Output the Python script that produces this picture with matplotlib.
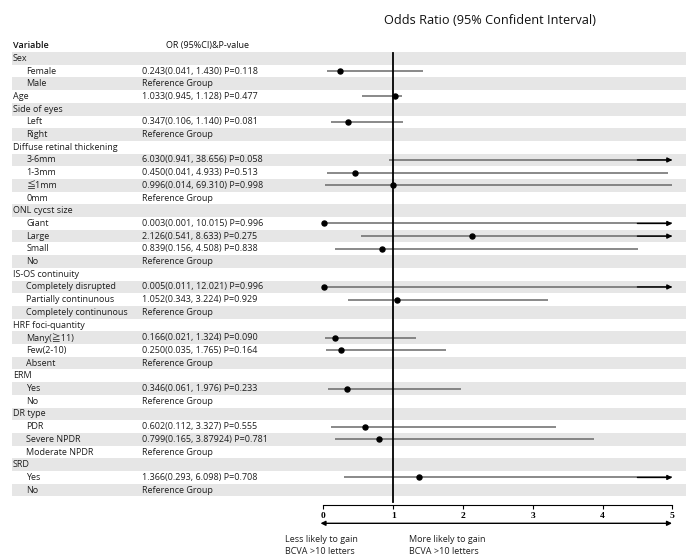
import numpy as np
import matplotlib.pyplot as plt
from matplotlib.patches import Rectangle

plt.rcParams['font.family'] = ['Open Sans', 'Noto Sans CJK SC', 'DejaVu Sans']

# row labels, indent level (0 = group, 1 = sub item), text column
labels = ["Sex", "Female", "Male", "Age", "Side of eyes", "Left", "Right",
          "Diffuse retinal thickening", "3-6mm", "1-3mm", "≦1mm", "0mm",
          "ONL cycst size", "Giant", "Large", "Small", "No",
          "IS-OS continuity", "Completely disrupted", "Partially continunous",
          "Completely continunous", "HRF foci-quantity", "Many(≧11)", "Few(2-10)",
          "Absent", "ERM", "Yes", "No", "DR type", "PDR", "Severe NPDR",
          "Moderate NPDR", "SRD", "Yes", "No"]
level = [0, 1, 1, 0, 0, 1, 1,
         0, 1, 1, 1, 1,
         0, 1, 1, 1, 1,
         0, 1, 1, 1, 0, 1, 1, 1,
         0, 1, 1, 0, 1, 1, 1,
         0, 1, 1]
ref = "Reference Group"
or_text = ["", "0.243(0.041, 1.430) P=0.118", ref, "1.033(0.945, 1.128) P=0.477", "",
           "0.347(0.106, 1.140) P=0.081", ref,
           "", "6.030(0.941, 38.656) P=0.058", "0.450(0.041, 4.933) P=0.513",
           "0.996(0.014, 69.310) P=0.998", ref,
           "", "0.003(0.001, 10.015) P=0.996", "2.126(0.541, 8.633) P=0.275",
           "0.839(0.156, 4.508) P=0.838", ref,
           "", "0.005(0.011, 12.021) P=0.996", "1.052(0.343, 3.224) P=0.929", ref,
           "", "0.166(0.021, 1.324) P=0.090", "0.250(0.035, 1.765) P=0.164", ref,
           "", "0.346(0.061, 1.976) P=0.233", ref,
           "", "0.602(0.112, 3.327) P=0.555", "0.799(0.165, 3.87924) P=0.781", ref,
           "", "1.366(0.293, 6.098) P=0.708", ref]

# plotted values as drawn in the figure (nan = no estimate)
nan = np.nan
est = [nan, 0.243, nan, 1.033, nan, 0.347, nan,
       nan, 6.030, 0.450, 0.996, nan,
       nan, 0.003, 2.126, 0.839, nan,
       nan, 0.005, 1.052, nan, nan, 0.166, 0.250, nan,
       nan, 0.346, nan, nan, 0.602, 0.799, nan,
       nan, 1.366, nan]
lo = [nan, 0.05, nan, 0.56, nan, 0.11, nan,
      nan, 0.941, 0.05, 0.02, nan,
      nan, 0.003, 0.541, 0.165, nan,
      nan, 0.005, 0.35, nan, nan, 0.03, 0.04, nan,
      nan, 0.07, nan, nan, 0.11, 0.165, nan,
      nan, 0.30, nan]
hi = [nan, 1.430, nan, 1.128, nan, 1.140, nan,
      nan, 38.656, 4.933, 69.310, nan,
      nan, 10.015, 8.633, 4.508, nan,
      nan, 12.021, 3.224, nan, nan, 1.324, 1.765, nan,
      nan, 1.976, nan, nan, 3.327, 3.879, nan,
      nan, 6.098, nan]
arrow = [False] * 35
for k in [8, 13, 14, 18, 33]:
    arrow[k] = True

xticks = [0, 1, 2, 3, 4, 5]

W, H = 686, 556
fig = plt.figure(figsize=(W / 100, H / 100), dpi=100)
bg = fig.add_axes([0, 0, 1, 1])
bg.set_xlim(0, W)
bg.set_ylim(H, 0)
bg.axis('off')

top, pitch = 52.0, 12.7
n = len(labels)
txtc = '#1e1e1e'
fs = 6.5

for i in range(n):
    yc = top + (i + 0.5) * pitch
    if i % 2 == 0:
        bg.add_patch(Rectangle((12, top + i * pitch), W - 12, pitch,
                               facecolor='#e6e6e6', edgecolor='none'))
    bg.text(13 + 13.5 * level[i], yc, labels[i], fontsize=fs, color=txtc,
            va='center', ha='left')
    if or_text[i]:
        bg.text(142, yc, or_text[i], fontsize=fs, color=txtc, va='center', ha='left')

bg.text(13, top - pitch / 2, "Variable", fontsize=fs, color='#111111',
        va='center', ha='left', fontweight='semibold')
bg.text(166, top - pitch / 2, "OR (95%CI)&P-value", fontsize=fs, color='#111111',
        va='center', ha='left')
bg.text(490, 20, "Odds Ratio (95% Confident Interval)", fontsize=9.2,
        color='#111111', va='center', ha='center')

# forest panel
x0, x1 = 323.3, 672.3
ax = fig.add_axes([x0 / W, 1 - (top + n * pitch) / H, (x1 - x0) / W, n * pitch / H])
ax.set_facecolor('none')
ax.set_xlim(0, 5)
ax.set_ylim(n - 0.5, -0.5)
for s in ['top', 'right', 'left']:
    ax.spines[s].set_visible(False)
ax.spines['bottom'].set_position(('outward', 6))
ax.spines['bottom'].set_linewidth(0.8)
ax.set_yticks([])
ax.set_xticks(xticks)
ax.set_xticklabels([str(t) for t in xticks], fontfamily='Liberation Serif',
                   fontweight='bold', fontsize=6.8)
ax.tick_params(axis='x', length=3, width=0.8, pad=2)

ax.plot([1, 1], [-0.45, n - 0.5 + 0.4], color='black', lw=1.3, clip_on=False, zorder=3)

for i in range(n):
    if np.isnan(est[i]):
        continue
    ax.plot([lo[i], min(hi[i], 5)], [i, i], color='#6a6a6a', lw=1.1, zorder=2,
            solid_capstyle='butt')
    if arrow[i]:
        ax.annotate('', xy=(5, i), xytext=(4.5, i),
                    arrowprops=dict(arrowstyle='-|>', color='black', lw=1.0,
                                    mutation_scale=7, shrinkA=0, shrinkB=0))
    if est[i] <= 5:
        ax.plot(est[i], i, 'o', color='black', markersize=3.6, zorder=4, clip_on=False)

# direction arrow and captions
bg.annotate('', xy=(672, 523.3), xytext=(320.5, 523.3),
            arrowprops=dict(arrowstyle='<|-|>', color='black', lw=1.0,
                            mutation_scale=7, shrinkA=0, shrinkB=0))
bg.text(285, 540, "Less likely to gain", fontsize=fs, color=txtc, va='center')
bg.text(285, 552, "BCVA >10 letters", fontsize=fs, color=txtc, va='center')
bg.text(409, 540, "More likely to gain", fontsize=fs, color=txtc, va='center')
bg.text(409, 552, "BCVA >10 letters", fontsize=fs, color=txtc, va='center')

fig.savefig("out.png", dpi=100)
